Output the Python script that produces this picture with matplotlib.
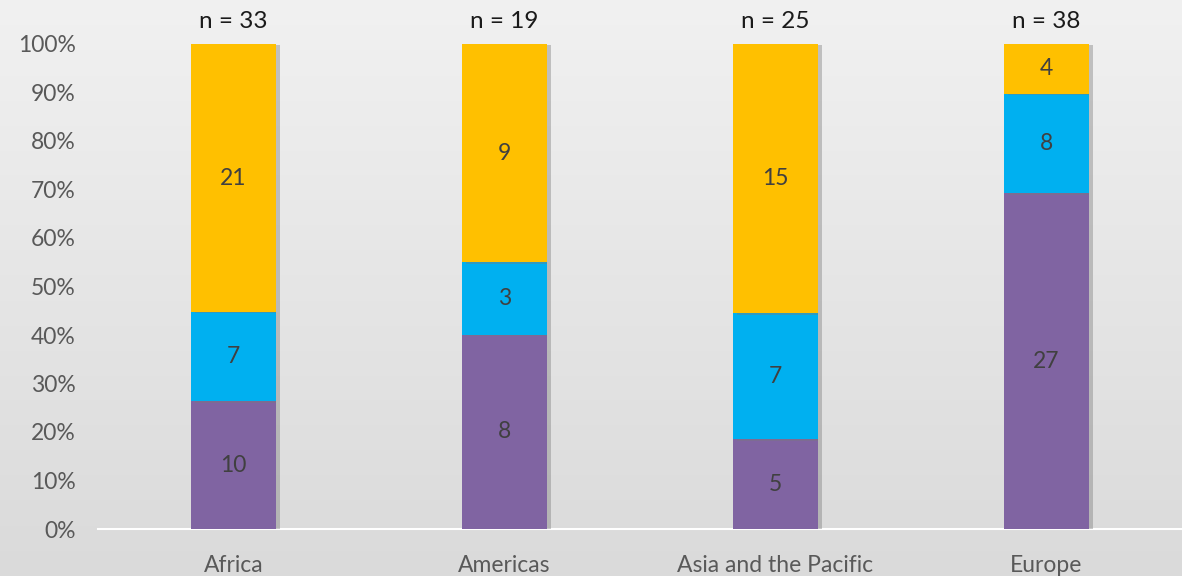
import numpy as np
import matplotlib
matplotlib.use("Agg")
import matplotlib.pyplot as plt
import matplotlib.patheffects as pe

plt.rcParams['font.family'] = ['Lato', 'DejaVu Sans']

regions = ["Africa", "Americas", "Asia and the Pacific", "Europe"]
n_labels = [33, 19, 25, 38]
purple_vals = [10, 8, 5, 27]
blue_vals = [7, 3, 7, 8]
yellow_vals = [21, 9, 15, 4]

colors = ["#8064A2", "#00B0F0", "#FFC000"]

series = np.array([purple_vals, blue_vals, yellow_vals], dtype=float)
totals = series.sum(axis=0)
shares = series / totals * 100

fig = plt.figure(figsize=(11.82, 5.76), dpi=100)

# gradient background
bg = fig.add_axes([0, 0, 1, 1], zorder=-10)
grad = np.linspace(0, 1, 256).reshape(-1, 1)
top = np.array([0.945, 0.945, 0.945])
bot = np.array([0.855, 0.855, 0.855])
img = top + (bot - top) * grad[..., None]
bg.imshow(img, aspect="auto", extent=[0, 1, 0, 1])
bg.axis("off")

ax = fig.add_axes([98 / 1182, 47 / 576, 1084 / 1182, 485 / 576])
ax.patch.set_alpha(0)

x = np.arange(len(regions))
bottom = np.zeros(len(regions))
shadow = [pe.SimplePatchShadow(offset=(3, -1), shadow_rgbFace="#7a7a7a", alpha=0.4), pe.Normal()]
for vals, pct, col in zip(series, shares, colors):
    bars = ax.bar(x, pct, 0.314, bottom=bottom, color=col, zorder=3)
    for b in bars:
        b.set_path_effects(shadow)
    for xi, b0, p, v in zip(x, bottom, pct, vals):
        ax.text(xi, b0 + p / 2, f"{int(v)}", ha="center", va="center",
                fontsize=16.5, color="#404040", zorder=5)
    bottom += pct

for xi, n in zip(x, n_labels):
    ax.annotate(f"n = {n}", (xi, 100), xytext=(0, 9), textcoords="offset points",
                ha="center", va="bottom", fontsize=17.5, color="#1a1a1a",
                annotation_clip=False)

ax.set_xlim(-0.5, len(regions) - 0.5)
ax.set_ylim(0, 100)
ax.set_yticks(np.arange(0, 101, 10))
ax.set_yticklabels([f"{t}%" for t in range(0, 101, 10)])
ax.set_xticks(x)
ax.set_xticklabels(regions)
ax.tick_params(axis="both", length=0, labelsize=16.5, labelcolor="#595959")
ax.tick_params(axis="y", pad=16)
ax.tick_params(axis="x", pad=19)
for s in ["top", "right", "left"]:
    ax.spines[s].set_visible(False)
ax.spines["bottom"].set_color("white")
ax.spines["bottom"].set_linewidth(1.5)

fig.savefig("out.png", dpi=100)
